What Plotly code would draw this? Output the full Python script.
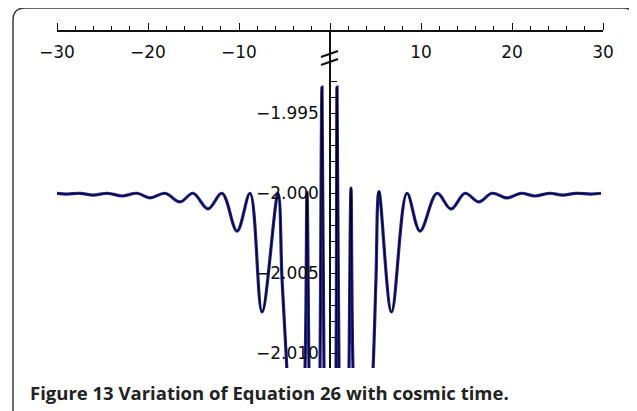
import plotly.graph_objects as go

# Values (x = cosmic time, y = Equation 26)
t_vals = [-30.0, -28.90, -27.47, -26.04, -24.40, -22.86, -21.21, -19.78, -18.13, -16.48,
          -15.05, -13.41, -11.87, -10.22, -8.79, -7.47, -5.71, -5.27, -4.73, -3.74,
          -2.75, -2.53, -2.31, -1.65, -1.10, -0.88, -0.66, 0.0, 0.66, 0.77,
          0.99, 1.65, 2.09, 2.31, 2.53, 3.52, 4.73, 5.05, 5.38, 6.76,
          8.46, 9.89, 11.76, 13.30, 14.84, 16.37, 17.80, 19.45, 20.99, 22.53,
          24.07, 25.60, 27.03, 28.68, 29.78]
eq26_vals = [-2.00000, -2.00005, -2.00000, -2.00011, -2.00000, -2.00017, -2.00000, -2.00029, -2.00000, -2.00054,
             -2.00000, -2.00098, -2.00000, -2.00236, -2.00000, -2.00742, -2.00000, -2.00540, -2.01105, -2.02540,
             -2.01105, -1.99992, -2.01105, -2.04420, -2.01105, -1.99336, -2.01105, -2.04420, -2.01105, -1.99336,
             -2.01105, -2.04420, -2.01105, -1.99967, -2.01105, -2.02540, -2.01105, -2.00540, -1.99990, -2.00742,
             -2.00000, -2.00236, -2.00000, -2.00098, -2.00000, -2.00054, -2.00000, -2.00029, -2.00000, -2.00017,
             -2.00000, -2.00011, -2.00000, -2.00005, -2.00000]

x_tick_vals = [-30, -20, -10, 10, 20, 30]
y_tick_vals = [-2.010, -2.005, -2.000, -1.995]
y_minor_vals = [-2.011, -2.009, -2.008, -2.007, -2.006, -2.004, -2.003, -2.002, -2.001,
                -1.999, -1.998, -1.997, -1.996, -1.994, -1.993]
caption = "<b>Figure 13 Variation of Equation 26 with cosmic time.</b>"

X_RANGE = [-30, 30]
Y_RANGE = [-2.01092, -1.98992]

fig = go.Figure()
fig.add_trace(go.Scatter(x=t_vals, y=eq26_vals, mode="lines",
                         line=dict(color="#25259a", width=3.2, shape="spline", smoothing=1.0),
                         hoverinfo="skip", showlegend=False))
fig.add_trace(go.Scatter(x=t_vals, y=eq26_vals, mode="lines",
                         line=dict(color="#000000", width=1, shape="spline", smoothing=1.0),
                         hoverinfo="skip", showlegend=False))
# invisible copy on the label-carrying x axis
fig.add_trace(go.Scatter(x=t_vals, y=eq26_vals, mode="lines", xaxis="x2", opacity=0,
                         line=dict(width=0), hoverinfo="skip", showlegend=False))

tick_font = dict(family="DejaVu Sans", size=17, color="#111111")

fig.update_layout(
    xaxis=dict(range=X_RANGE, side="top", showline=True, linecolor="#111111", linewidth=1.5,
               showgrid=False, zeroline=False, tickvals=[-30, -20, -10, 0, 10, 20, 30],
               showticklabels=False, automargin=False,
               ticks="outside", ticklen=7, tickwidth=1.2, tickcolor="#111111",
               minor=dict(dtick=2, tick0=0, ticks="outside", ticklen=4, tickwidth=1, tickcolor="#111111")),
    xaxis2=dict(range=X_RANGE, overlaying="x", anchor="free", position=1.0, side="bottom",
                showline=False, showgrid=False, zeroline=False, ticks="", automargin=False,
                tickvals=x_tick_vals, tickfont=tick_font, ticklabelstandoff=8),
    yaxis=dict(range=Y_RANGE, anchor="free", position=0.5, side="left", automargin=False,
               showline=True, linecolor="#111111", linewidth=1.5,
               showgrid=False, zeroline=False, tickvals=y_tick_vals, tickformat=".3f",
               ticks="inside", ticklen=7, tickwidth=1.2, tickcolor="#111111", tickfont=tick_font,
               ticklabelstandoff=7,
               minor=dict(tickvals=y_minor_vals, ticks="inside", ticklen=6, tickwidth=1, tickcolor="#111111")),
)

# axis break marks on the y axis
px_x = (X_RANGE[1] - X_RANGE[0]) / 546.0
px_y = (Y_RANGE[1] - Y_RANGE[0]) / 336.0
top = Y_RANGE[1]
for off in (22.0, 30.0):
    fig.add_shape(type="line", xref="x", yref="y",
                  x0=-9 * px_x, y0=top - (off + 3) * px_y,
                  x1=8 * px_x, y1=top - (off - 3) * px_y,
                  line=dict(color="#111111", width=2))

# rounded frame around the figure (paper coordinates relative to the plot area)
L, R = (13 - 57) / 546, (635 - 57) / 546
T, B = (368 - 8) / 336, (368 - 430) / 336
rx, ry = 12 / 546, 12 / 336
path = (f"M {L},{B} L {L},{T - ry} Q {L},{T} {L + rx},{T} "
        f"L {R - rx},{T} Q {R},{T} {R},{T - ry} L {R},{B}")
fig.add_shape(type="path", xref="paper", yref="paper", path=path,
              line=dict(color="#3a3a3a", width=1.5))

fig.add_annotation(text=caption, xref="paper", yref="paper",
                   x=(28 - 57) / 546, y=(368 - 392) / 336, xanchor="left", yanchor="middle",
                   showarrow=False, font=dict(family="Open Sans", size=18.5, color="#222222"))

# the page body adds an 8 px offset, so the figure is 8 px smaller and margins shifted
fig.update_layout(width=629, height=403, margin=dict(l=49, r=34, t=24, b=43, autoexpand=False),
                  paper_bgcolor="white", plot_bgcolor="white", showlegend=False)

fig.write_html("out.html")
